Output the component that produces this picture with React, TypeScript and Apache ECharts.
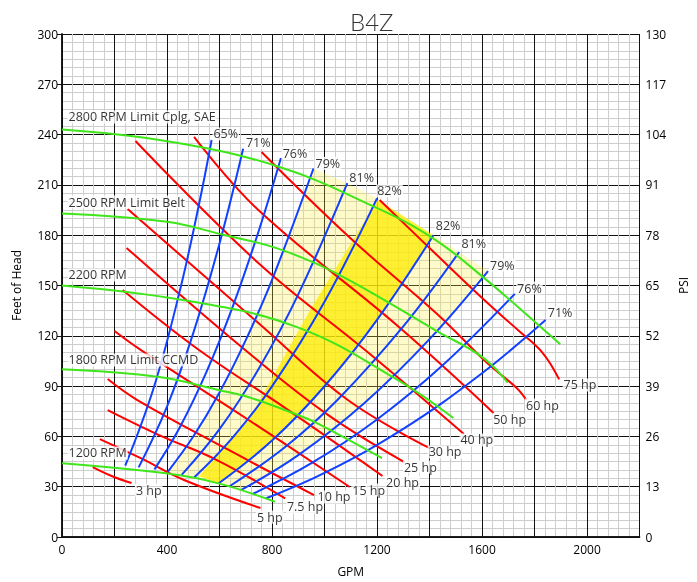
import React, { useEffect, useRef } from 'react';
import * as echarts from 'echarts';

// ---- Head (RPM) curves: [GPM, feet] ----
const rpm2800 = [[0, 243], [400, 236], [823, 221], [1189, 197], [1415, 178], [1604, 155], [1804, 128], [1898, 115]];
const rpm2500 = [[0, 193], [400, 188], [621, 180], [823, 172], [1049, 157], [1426, 123], [1604, 107], [1698, 92]];
const rpm2200 = [[0, 150], [472, 141], [898, 125], [1275, 94], [1491, 71]];
const rpm1800 = [[0, 100], [370, 95.4], [596, 87.7], [709, 83.5], [898, 72.8], [962, 68.6], [1219, 47]];
const rpm1200 = [[0, 44], [396, 38], [596, 32], [811, 21]];

// ---- Efficiency curves ----
const e65L = [[241, 42.5], [350, 89.3], [450, 147.6], [520, 197], [570, 236.8]];
const e71L = [[292, 41.5], [400, 77.8], [500, 121.6], [600, 175.1], [690, 231.6]];
const e76L = [[352, 40.3], [450, 65.8], [550, 98.3], [650, 137.3], [750, 182.8], [834, 226]];
const e79L = [[403, 38.9], [500, 59.9], [600, 86.2], [700, 117.4], [800, 153.3], [958, 219.8]];
const e81L = [[456, 37.1], [600, 64.3], [750, 100.5], [900, 144.7], [1087, 211]];
const e82L = [[504, 35.6], [650, 59.3], [800, 89.8], [1000, 140.3], [1200, 202]];
const e82R = [[596, 31.9], [800, 57.5], [1000, 89.9], [1200, 129.5], [1415, 180]];
const e81R = [[637, 30.1], [850, 53.7], [1050, 81.9], [1300, 125.6], [1513, 170]];
const e79R = [[683, 28.1], [900, 48.8], [1150, 79.6], [1400, 118], [1623, 158.6]];
const e76R = [[728, 25.8], [950, 44], [1200, 70.1], [1450, 102.4], [1725, 145]];
const e71R = [[778, 23.1], [1000, 38.2], [1300, 64.5], [1600, 97.7], [1842, 129.4]];

// ---- Horsepower curves ----
const hp3 = [[117, 41.7], [189, 36.4], [265, 32.2]];
const hp5 = [[144, 58.4], [300, 47], [465, 34], [756, 17.3]];
const hp7_5 = [[174, 75.7], [370, 60.8], [590, 45.9], [850, 23]];
const hp10 = [[174, 94.2], [287, 81.7], [635, 51.9], [960, 25]];
const hp15 = [[200, 122.9], [301, 111.5], [711, 69.8], [1096, 29.8]];
const hp20 = [[231, 147.3], [522, 111.5], [862, 75.7], [1221, 36.4]];
const hp25 = [[246, 172.4], [698, 111.5], [1013, 72.8], [1304, 44.7]];
const hp30 = [[250, 195.6], [748, 127.6], [1089, 81.7], [1399, 53.1]];
const hp40 = [[280, 236.2], [748, 163.4], [1164, 110.3], [1531, 61.4]];
const hp50 = [[503, 238.6], [748, 195], [1278, 126], [1644, 74]];
const hp60 = [[760, 229.6], [1100, 178], [1429, 133], [1618, 104], [1731, 89], [1769, 81.7]];
const hp75 = [[1210, 201], [1429, 168], [1618, 140], [1740, 123], [1830, 110], [1894, 94]];

// ---- Shaded efficiency zones ----
const paleZone = [[403, 38.9], [500, 59.9], [600, 86.2], [700, 117.4], [800, 153.3], [958, 219.8], [1087, 211], [1200, 202], [1415, 180], [1513, 170], [1623, 158.6], [1400, 118], [1150, 79.6], [900, 48.8], [683, 28.1], [550, 33.8]];
const peakZone = [[522, 36.4], [711, 69.8], [945, 135.4], [1202, 201], [1415, 180], [1200, 129.5], [1000, 89.9], [800, 57.5], [596, 31.9]];

// ---- Text labels: [GPM, feet, text] ----
const rpmLabels = [
  [19, 250.5, '2800 RPM Limit Cplg, SAE'],
  [19, 199.8, '2500 RPM Limit Belt'],
  [19, 156.3, '2200 RPM'],
  [19, 105.6, '1800 RPM Limit CCMD'],
  [19, 50.1, '1200 RPM'],
];
const effLabels = [
  [571, 240.4, '65%'], [695, 235.3, '71%'], [835, 229, '76%'], [960, 222.8, '79%'],
  [1089, 214.7, '81%'], [1195, 206.4, '82%'], [1418, 185.5, '82%'], [1516, 175.3, '81%'],
  [1625, 162.2, '79%'], [1728, 148.5, '76%'], [1845, 133.6, '71%'],
];
const hpLabels = [
  [276, 28.0, '3 hp'], [737, 11.9, '5 hp'], [851, 17.9, '7.5 hp'], [968, 23.9, '10 hp'],
  [1100, 28.0, '15 hp'], [1229, 32.8, '20 hp'], [1297, 41.7, '25 hp'], [1391, 50.7, '30 hp'],
  [1512, 57.9, '40 hp'], [1637, 69.8, '50 hp'], [1762, 78.7, '60 hp'], [1905, 90.7, '75 hp'],
];

const FONT = '"Open Sans", "Noto Sans", sans-serif';
const TITLE_FONT = 'Lato, "Open Sans", sans-serif';
const RED = '#ff0000';
const BLUE = '#1240ff';
const GREEN = '#3ee61a';
const INK = '#000';

export default function App() {
  const ref = useRef<HTMLDivElement>(null);
  useEffect(() => {
    if (!ref.current) return;
    const chart = echarts.init(ref.current, undefined, { renderer: 'svg' });
    const lineSeries = (data: number[][], color: string, z: number) => ({
      type: 'line', data, smooth: 0.4, symbol: 'none', silent: true, z,
      lineStyle: { color, width: 2 },
    });
    const polySeries = (pts: number[][], fill: string, z: number) => ({
      type: 'custom', silent: true, z, data: [[0, 0]],
      renderItem: (_p: any, api: any) => ({
        type: 'polygon',
        shape: { points: pts.map((p) => api.coord(p)) },
        style: { fill },
      }),
    });
    const labelData = [...rpmLabels, ...effLabels, ...hpLabels];
    chart.setOption({
      animation: false,
      textStyle: { fontFamily: FONT },
      title: {
        text: 'B4Z', left: 345, top: 4,
        textStyle: { fontSize: 24, fontWeight: 300, color: '#333', fontFamily: TITLE_FONT },
      },
      grid: { left: 62, right: 53, top: 34, bottom: 45 },
      xAxis: [
        {
          type: 'value', min: 0, max: 2200, interval: 200, name: 'GPM', nameLocation: 'middle', nameGap: 28,
          nameTextStyle: { fontSize: 12, color: INK },
          axisLine: { show: true, lineStyle: { color: '#111', width: 1.5 } },
          axisTick: { show: false },
          axisLabel: { fontSize: 12, color: INK, margin: 6, formatter: (v: number) => (v % 400 === 0 ? String(v) : '') },
          splitLine: { show: true, lineStyle: { color: '#111', width: 1 } },
          minorTick: { show: false, splitNumber: 5 },
          minorSplitLine: { show: true, lineStyle: { color: '#cdcdcd', width: 1 } },
        },
        {
          type: 'value', position: 'top', min: 0, max: 2200, interval: 200,
          axisLine: { show: true, lineStyle: { color: '#111', width: 1.5 } },
          axisTick: { show: false }, axisLabel: { show: false }, splitLine: { show: false },
        },
      ],
      yAxis: [
        {
          type: 'value', min: 0, max: 300, interval: 30, name: 'Feet of Head', nameLocation: 'middle', nameGap: 40,
          nameTextStyle: { fontSize: 12, color: INK },
          axisLine: { show: true, lineStyle: { color: '#111', width: 1.5 } },
          axisTick: { show: true, length: 5, lineStyle: { color: '#111' } },
          axisLabel: { fontSize: 12, color: INK, margin: 4 },
          splitLine: { show: true, lineStyle: { color: '#111', width: 1 } },
          minorTick: { show: false, splitNumber: 6 },
          minorSplitLine: { show: true, lineStyle: { color: '#cdcdcd', width: 1 } },
        },
        {
          type: 'value', position: 'right', min: 0, max: 130, interval: 13, name: 'PSI', nameLocation: 'middle', nameGap: 25,
          nameRotate: 90,
          nameTextStyle: { fontSize: 12, color: INK },
          axisLine: { show: true, lineStyle: { color: '#111', width: 1.5 } },
          axisTick: { show: true, length: 5, lineStyle: { color: '#111' } },
          axisLabel: { fontSize: 12, color: INK, margin: 6 },
          splitLine: { show: false },
        },
      ],
      series: [
        polySeries(paleZone, 'rgba(255,238,60,0.28)', 1),
        polySeries(peakZone, 'rgba(255,236,0,0.75)', 2),
        ...[hp3, hp5, hp7_5, hp10, hp15, hp20, hp25, hp30, hp40, hp50, hp60, hp75].map((d) => lineSeries(d, RED, 3)),
        ...[e65L, e71L, e76L, e79L, e81L, e82L, e82R, e81R, e79R, e76R, e71R].map((d) => lineSeries(d, BLUE, 4)),
        ...[rpm2800, rpm2500, rpm2200, rpm1800, rpm1200].map((d) => lineSeries(d, GREEN, 5)),
        {
          type: 'scatter', z: 10, silent: true, symbolSize: 1, itemStyle: { color: 'rgba(0,0,0,0)' },
          data: labelData,
          label: {
            show: true, position: 'right', distance: 0,
            formatter: (p: any) => p.data[2],
            fontSize: 12.5, color: INK, fontFamily: FONT,
            backgroundColor: '#fff', padding: [0, 1, 0, 1],
          },
        },
      ],
    });
    return () => chart.dispose();
  }, []);
  return <div ref={ref} style={{ position: 'fixed', left: 0, top: 0, width: 697, height: 582 }} />;
}
